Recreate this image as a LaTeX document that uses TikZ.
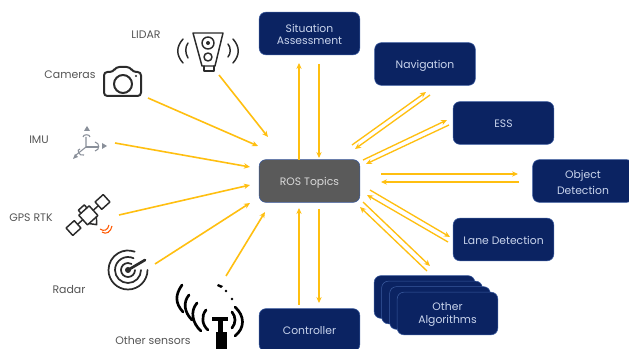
\documentclass[tikz,border=0pt]{standalone}
\usepackage{fontspec}
\setmainfont{Poppins}
\usetikzlibrary{arrows.meta}
\definecolor{navy}{HTML}{0B2362}
\definecolor{edgeblue}{HTML}{3A5A9E}
\definecolor{rosgray}{HTML}{5A5A5A}
\definecolor{amber}{HTML}{FFBF10}
\definecolor{boxtext}{HTML}{C9D4EC}
\definecolor{labeltext}{HTML}{555555}
\definecolor{icon}{HTML}{2B2B2B}
\definecolor{imugray}{HTML}{8A909A}
\newcommand{\lowered}[2]{\raisebox{0pt}[\dimexpr\height+#1pt\relax][\depth]{#2}}
\tikzset{
 algbox/.style={draw=edgeblue,line width=0.4pt,fill=navy,rounded corners=5pt,text=boxtext,font=\fontsize{8.1}{9.5}\selectfont,align=center,minimum width=75.5pt,minimum height=32pt,inner sep=0pt},
 rosbox/.style={algbox,fill=rosgray,text=white!85!black},
 sensorlabel/.style={text=labeltext,font=\fontsize{8.2}{9.5}\selectfont,inner sep=0pt,yshift=-0.9pt},
 flow/.style={draw=amber,line width=1.2pt,-{Stealth[length=4.5pt,width=4pt]}},
 thinflow/.style={flow,line width=1pt},
 iconline/.style={draw=icon,line width=1.1pt,line cap=round,line join=round},
}
\begin{document}
\begin{tikzpicture}[x=0.75pt,y=-0.75pt]
\useasboundingbox (0,0) rectangle (629,349);
\fill[white] (0,0) rectangle (629,349);
% boxes
\node[algbox] (sit) at (309.5,33.5) {\lowered{1.5}{\shortstack{Situation\\[0.5pt]Assessment}}};
\node[algbox] (nav) at (425,64) {\lowered{3}{Navigation}};
\node[algbox] (ess) at (503.5,123) {\lowered{1.5}{ESS}};
\node[algbox] (obj) at (583,181) {\lowered{2}{\shortstack{Object\\[0.5pt]Detection}}};
\node[algbox] (lane) at (503.5,239.5) {\lowered{1.5}{Lane Detection}};
\node[algbox] (o1) at (424.5,297) {};
\node[algbox] (o2) at (432,302.5) {};
\node[algbox] (o3) at (440,308) {};
\node[algbox] (o4) at (447.5,313.5) {\lowered{2}{\shortstack{Other\\[0.5pt]Algorithms}}};
\node[algbox] (ctrl) at (309.5,330) {\lowered{1.5}{Controller}};
\node[rosbox] (ros) at (309.5,181) {\lowered{3}{ROS Topics}};
% labels
\node[sensorlabel] (llidar) at (146,33) {LIDAR};
\node[sensorlabel] (lcam) at (70,73) {Cameras};
\node[sensorlabel] (limu) at (39,139) {IMU};
\node[sensorlabel] (lgps) at (31,216) {GPS RTK};
\node[sensorlabel] (lradar) at (69,288) {Radar};
\node[sensorlabel] (lother) at (153,339) {Other sensors};
% LIDAR icon
\draw[iconline] (193,33) -- (223,33) -- (215,66) -- (202,66) -- cycle;
\draw[iconline] (204,66) -- (204,71) -- (214,71) -- (214,66);
\draw[iconline] (208,43) circle (6);
\fill[icon] (208,43) circle (2);
\draw[iconline] (208,57) circle (4);
\draw[iconline] (183,39) .. controls (176,47) and (176,55) .. (183,63);
\draw[iconline] (188,43) .. controls (185,47) and (185,53) .. (188,58);
\draw[iconline] (233,39) .. controls (240,47) and (240,55) .. (233,63);
\draw[iconline] (228,44) .. controls (231,48) and (231,53) .. (228,57);
% camera icon
\draw[iconline,line width=1.5pt,rounded corners=2.5pt] (104,72) -- (113,72) -- (116,67) -- (130,67) -- (133,72) -- (141,72) -- (141,96) -- (104,96) -- cycle;
\draw[iconline,line width=1.5pt] (123,84) circle (9);
\fill[icon] (136,76) circle (1.2);
% IMU icon
\begin{scope}[draw=imugray,line width=0.8pt]
\draw (86,137) -- (86,147) -- (76,155);
\draw (86,147) -- (98,147);
\draw (83,137) .. controls (83,134) and (90,134) .. (90,137);
\draw (95,142) .. controls (100,143) and (100,150) .. (95,151);
\draw (80,149) .. controls (76,149) and (79,157) .. (84,155);
\fill[imugray] (87,126) -- (84,131) -- (90,131) -- cycle;
\fill[imugray] (107,146) -- (102,143) -- (102,149) -- cycle;
\fill[imugray] (73,159) -- (75,154) -- (78,157) -- cycle;
\end{scope}
% satellite icon
\begin{scope}[shift={(88,215)},rotate=42]
\draw[iconline] (-7,-6) rectangle (7,7);
\draw[iconline] (-25,-5) rectangle (-14,5);
\draw[iconline] (-14,0) -- (-7,0);
\draw[iconline] (14,-5) rectangle (25,5);
\draw[iconline] (7,0) -- (14,0);
\draw[iconline] (-4,-6) -- (-4,-10) -- (4,-10) -- (4,-6);
\draw[iconline] (-5,7) -- (0,13) -- (5,7);
\end{scope}
\draw[draw=orange!70!red,line width=0.8pt] (100,229) .. controls (104,232) and (108,230) .. (109,225);
\draw[draw=orange!70!red,line width=0.8pt] (102,232) .. controls (106,235) and (111,232) .. (112,226);
% radar icon
\draw[iconline,line width=1.3pt] (135,270) arc (0:300:7);
\draw[iconline,line width=1.3pt] (141,270) arc (0:295:13);
\draw[iconline,line width=1.3pt] (147.5,270) arc (0:290:19.5);
\draw[iconline,line width=2pt] (128,270) -- (145,260);
\fill[icon] (128,270) circle (3);
% other sensors icon
\fill[black] (216,332) rectangle (227,349);
\fill[black] (212,317) rectangle (228,321);
\fill[black] (218,319) rectangle (223,333);
\begin{scope}[draw=black,line width=2pt,line cap=round]
\draw (182,285) .. controls (175,295) and (175,303) .. (183,312);
\draw (189,295) .. controls (183,302) and (184,312) .. (192,320);
\draw (197,303) .. controls (190,311) and (192,323) .. (201,331);
\draw (206,310) .. controls (201,316) and (202,325) .. (208,330);
\draw (232,312) .. controls (236,317) and (236,323) .. (232,328);
\draw (235,307) .. controls (245,316) and (245,328) .. (235,336);
\end{scope}
\fill[black] (218,284) -- (223,286) -- (221,288) -- (217,286) -- cycle;
\fill[black] (226,291) circle (1.3);
\fill[black] (232,299) circle (1.3);
% connector ends
\coordinate (a1) at (219,75); \coordinate (b1) at (268,137);
\coordinate (a2) at (148,98); \coordinate (b2) at (258,146);
\coordinate (a3) at (115,143); \coordinate (b3) at (250,167);
\coordinate (a4) at (119,215); \coordinate (b4) at (250,185);
\coordinate (a5) at (155,264); \coordinate (b5) at (250,203);
\coordinate (a6) at (226,276); \coordinate (b6) at (265,212);
\draw[flow] (a1) -- (b1);
\draw[flow] (a2) -- (b2);
\draw[flow] (a3) -- (b3);
\draw[flow] (a4) -- (b4);
\draw[flow] (a5) -- (b5);
\draw[flow] (a6) -- (b6);
% vertical pairs
\coordinate (s1) at (299,160); \coordinate (s2) at (299,63);
\coordinate (s3) at (319,64); \coordinate (s4) at (319,158);
\coordinate (c1) at (299,305); \coordinate (c2) at (299,208);
\coordinate (c3) at (319,209); \coordinate (c4) at (319,303);
\draw[flow] (s1) -- (s2);
\draw[thinflow] (s3) -- (s4);
\draw[flow] (c1) -- (c2);
\draw[thinflow] (c3) -- (c4);
% right pairs
\coordinate (n1) at (352,145); \coordinate (n2) at (426,92);
\coordinate (n3) at (430,95); \coordinate (n4) at (355,149);
\coordinate (e1) at (363,160); \coordinate (e2) at (447,120);
\coordinate (e3) at (449,125); \coordinate (e4) at (366,164);
\coordinate (d1) at (381,174); \coordinate (d2) at (518,174);
\coordinate (d3) at (519,182); \coordinate (d4) at (381,182);
\coordinate (l1) at (370,190); \coordinate (l2) at (450,237);
\coordinate (l3) at (448,242); \coordinate (l4) at (367,195);
\coordinate (g1) at (363,202); \coordinate (g2) at (430,266);
\coordinate (g3) at (427,271); \coordinate (g4) at (360,207);
\foreach \p/\q in {n1/n2,n3/n4,e1/e2,e3/e4,d1/d2,d3/d4,l1/l2,l3/l4,g1/g2,g3/g4}
  \draw[thinflow] (\p) -- (\q);
\end{tikzpicture}
\end{document}
